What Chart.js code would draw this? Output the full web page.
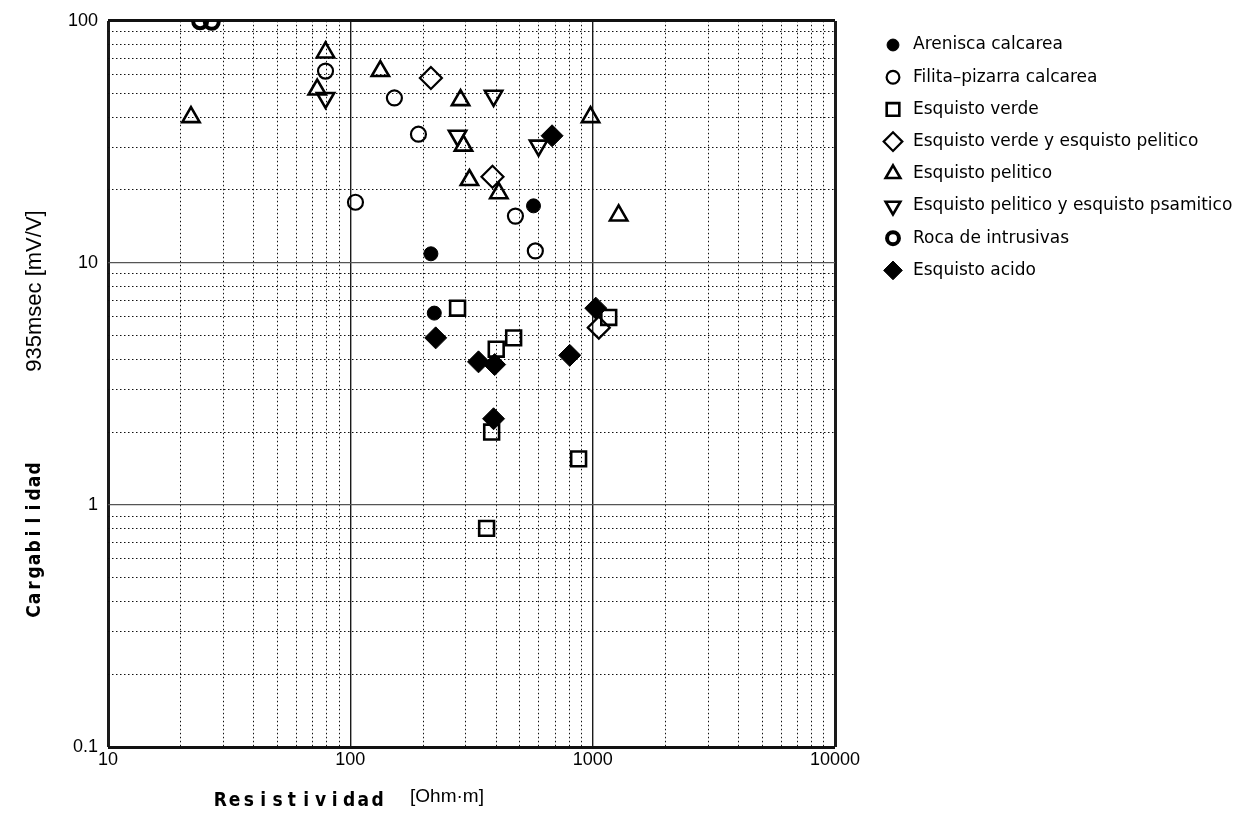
<!DOCTYPE html>
<html><head><meta charset="utf-8">
<script src="https://cdn.jsdelivr.net/npm/chart.js@4/dist/chart.umd.min.js"></script>
<style>html,body{margin:0;padding:0;background:#fff}#wrap{width:1257px;height:824px;position:relative}</style>
</head><body><div id="wrap"><canvas id="c" width="1257" height="824"></canvas></div>
<script>
// ---- data (Resistividad [Ohm·m], Cargabilidad [mV/V]) ----
const seriesNames = ['Arenisca calcarea','Filita\u2013pizarra calcarea','Esquisto verde','Esquisto verde y esquisto pelitico','Esquisto pelitico','Esquisto pelitico y esquisto psamitico','Roca de intrusivas','Esquisto acido'];
const areniscaRes = [215, 222, 570];
const areniscaCarg = [10.9, 6.2, 17.2];
const filitaRes = [105, 152, 191, 79, 480, 580];
const filitaCarg = [17.8, 48, 34, 62, 15.6, 11.2];
const verdeRes = [277, 472, 400, 1165, 383, 875, 365];
const verdeCarg = [6.5, 4.9, 4.4, 5.95, 2.0, 1.55, 0.8];
const verdePeliticoRes = [215, 386, 1060];
const verdePeliticoCarg = [58, 22.7, 5.4];
const peliticoRes = [22, 79, 73, 133, 285, 293, 310, 410, 980, 1280];
const peliticoCarg = [40, 74, 52, 62, 47, 30.5, 22, 19.4, 40, 15.7];
const psamiticoRes = [79, 390, 277, 598];
const psamiticoCarg = [48, 49, 33.5, 30.5];
const rocaRes = [24, 26.8];
const rocaCarg = [99.5, 99];
const acidoRes = [225, 338, 394, 390, 804, 1030, 680];
const acidoCarg = [4.9, 3.9, 3.8, 2.27, 4.15, 6.5, 33.5];

const xTickLabels = [10, 100, 1000, 10000];
const yTickLabels = [0.1, 1, 10, 100];
const xGridValues = [10,20,30,40,50,60,70,80,90,100,200,300,400,500,600,700,800,900,1000,2000,3000,4000,5000,6000,7000,8000,9000,10000];
const yGridValues = [0.1,0.2,0.3,0.4,0.5,0.6,0.7,0.8,0.9,1,2,3,4,5,6,7,8,9,10,20,30,40,50,60,70,80,90,100];

const pts = (xs, ys) => xs.map((x, i) => ({x: x, y: ys[i]}));
const isDecade = v => Math.abs(Math.log10(v) - Math.round(Math.log10(v))) < 1e-9;

const styles = [
  {pointStyle:'circle', radius:7, backgroundColor:'#000', borderColor:'#000', borderWidth:1, rotation:0},
  {pointStyle:'circle', radius:7.5, backgroundColor:'rgba(0,0,0,0)', borderColor:'#000', borderWidth:2.2, rotation:0},
  {pointStyle:'rect', radius:10.5, backgroundColor:'rgba(0,0,0,0)', borderColor:'#000', borderWidth:2.6, rotation:0},
  {pointStyle:'rectRot', radius:11, backgroundColor:'rgba(0,0,0,0)', borderColor:'#000', borderWidth:2.2, rotation:0},
  {pointStyle:'triangle', radius:10, backgroundColor:'rgba(0,0,0,0)', borderColor:'#000', borderWidth:2.6, rotation:0},
  {pointStyle:'triangle', radius:10, backgroundColor:'rgba(0,0,0,0)', borderColor:'#000', borderWidth:2.6, rotation:180},
  {pointStyle:'circle', radius:7, backgroundColor:'rgba(0,0,0,0)', borderColor:'#000', borderWidth:4, rotation:0},
  {pointStyle:'rectRot', radius:11, backgroundColor:'#000', borderColor:'#000', borderWidth:1, rotation:0}
];
const seriesData = [
  pts(areniscaRes, areniscaCarg), pts(filitaRes, filitaCarg), pts(verdeRes, verdeCarg),
  pts(verdePeliticoRes, verdePeliticoCarg), pts(peliticoRes, peliticoCarg),
  pts(psamiticoRes, psamiticoCarg), pts(rocaRes, rocaCarg), pts(acidoRes, acidoCarg)
];

const datasets = seriesNames.map((name, i) => ({
  label: name, data: seriesData[i],
  pointStyle: styles[i].pointStyle, pointRadius: styles[i].radius, pointRotation: styles[i].rotation,
  pointBackgroundColor: styles[i].backgroundColor, pointBorderColor: styles[i].borderColor,
  pointBorderWidth: styles[i].borderWidth, pointHoverRadius: styles[i].radius,
  backgroundColor: styles[i].backgroundColor, borderColor: styles[i].borderColor
}));

function drawMarker(ctx, st, x, y, scale) {
  ctx.save();
  ctx.fillStyle = st.backgroundColor; ctx.strokeStyle = st.borderColor;
  ctx.lineWidth = st.borderWidth;
  const opts = {pointStyle: st.pointStyle, rotation: st.rotation, radius: st.radius * scale, borderWidth: st.borderWidth};
  if (Chart.helpers && Chart.helpers.drawPoint) {
    Chart.helpers.drawPoint(ctx, opts, x, y);
  } else {
    const r = opts.radius; ctx.beginPath();
    ctx.arc(x, y, r, 0, Math.PI * 2); ctx.fill(); ctx.stroke();
  }
  ctx.restore();
}
function drawSpaced(ctx, text, cx, y, pitch) {
  const n = text.length; const start = cx - pitch * (n - 1) / 2;
  ctx.textAlign = 'center';
  for (let i = 0; i < n; i++) ctx.fillText(text[i], start + i * pitch, y);
}

const decorPlugin = {
  id: 'decor',
  afterDraw(chart) {
    const ctx = chart.ctx;
    ctx.save();
    ctx.fillStyle = '#000';
    ctx.textBaseline = 'middle';
    // legend
    const lx = 893, tx = 913, ly0 = 45, step = 32.2;
    seriesNames.forEach((name, i) => {
      const y = ly0 + i * step;
      drawMarker(ctx, styles[i], lx, y, 0.85);
      ctx.fillStyle = '#000';
      ctx.textAlign = 'left';
      ctx.font = '17px "DejaVu Sans"';
      ctx.fillText(name, tx, y);
    });
    // x title
    ctx.font = 'bold 19px "DejaVu Sans Condensed", "Liberation Sans Narrow", "DejaVu Sans"';
    drawSpaced(ctx, 'Resistividad', 299, 801, 14.3);
    ctx.font = '19px "Liberation Sans"';
    ctx.textAlign = 'center';
    ctx.fillText('[Ohm\u00B7m]', 447, 797);
    // y title
    ctx.translate(35, 0);
    ctx.rotate(-Math.PI / 2);
    ctx.font = 'bold 19px "DejaVu Sans Condensed", "Liberation Sans Narrow", "DejaVu Sans"';
    drawSpaced(ctx, 'Cargabilidad', -540, 0, 13);
    ctx.font = '22px "Liberation Sans"';
    ctx.textAlign = 'center';
    ctx.fillText('935msec [mV/V]', -291, 0);
    ctx.restore();
  }
};

const tickFont = {family: 'Liberation Sans', size: 18};
new Chart(document.getElementById('c'), {
  type: 'scatter',
  data: {datasets: datasets},
  options: {
    responsive: false, animation: false, devicePixelRatio: 1,
    layout: {padding: 0},
    plugins: {legend: {display: false}, tooltip: {enabled: false}},
    scales: {
      x: {
        type: 'logarithmic', position: 'bottom', min: 10, max: 10000,
        afterBuildTicks: s => { s.ticks = xGridValues.map(v => ({value: v})); },
        afterFit: s => { s.height = 77; },
        ticks: {autoSkip: false, maxRotation: 0, padding: 2, color: '#000', font: tickFont,
          callback: v => xTickLabels.indexOf(v) >= 0 ? String(v) : ''},
        grid: {drawTicks: false, lineWidth: 1, color: c => isDecade(c.tick.value) ? 'rgba(0,0,0,0)' : '#111'},
        border: {display: false, dash: [1.5, 2.5]}
      },
      xMajor: {
        type: 'logarithmic', position: 'top', min: 10, max: 10000,
        afterBuildTicks: s => { s.ticks = xTickLabels.map(v => ({value: v})); },
        afterFit: s => { s.height = 16; },
        ticks: {display: false},
        grid: {drawTicks: false, color: '#1a1a1a',
          lineWidth: c => (c.tick.value === 10 || c.tick.value === 10000) ? 3 : 1.4},
        border: {display: false}
      },
      y: {
        type: 'logarithmic', position: 'left', min: 0.1, max: 100,
        afterBuildTicks: s => { s.ticks = yGridValues.map(v => ({value: v})); },
        afterFit: s => { s.width = 108; },
        ticks: {autoSkip: false, padding: 10, color: '#000', font: tickFont,
          callback: v => yTickLabels.indexOf(v) >= 0 ? String(v) : ''},
        grid: {drawTicks: false, lineWidth: 1, color: c => isDecade(c.tick.value) ? 'rgba(0,0,0,0)' : '#111'},
        border: {display: false, dash: [1.5, 2.5]}
      },
      yMajor: {
        type: 'logarithmic', position: 'right', min: 0.1, max: 100,
        afterBuildTicks: s => { s.ticks = yTickLabels.map(v => ({value: v})); },
        afterFit: s => { s.width = 422; },
        ticks: {display: false},
        grid: {drawTicks: false, color: c => (c.tick.value === 0.1 || c.tick.value === 100) ? '#111' : '#555',
          lineWidth: c => (c.tick.value === 0.1 || c.tick.value === 100) ? 3 : 1.2},
        border: {display: false}
      }
    }
  },
  plugins: [decorPlugin]
});
</script></body></html>
